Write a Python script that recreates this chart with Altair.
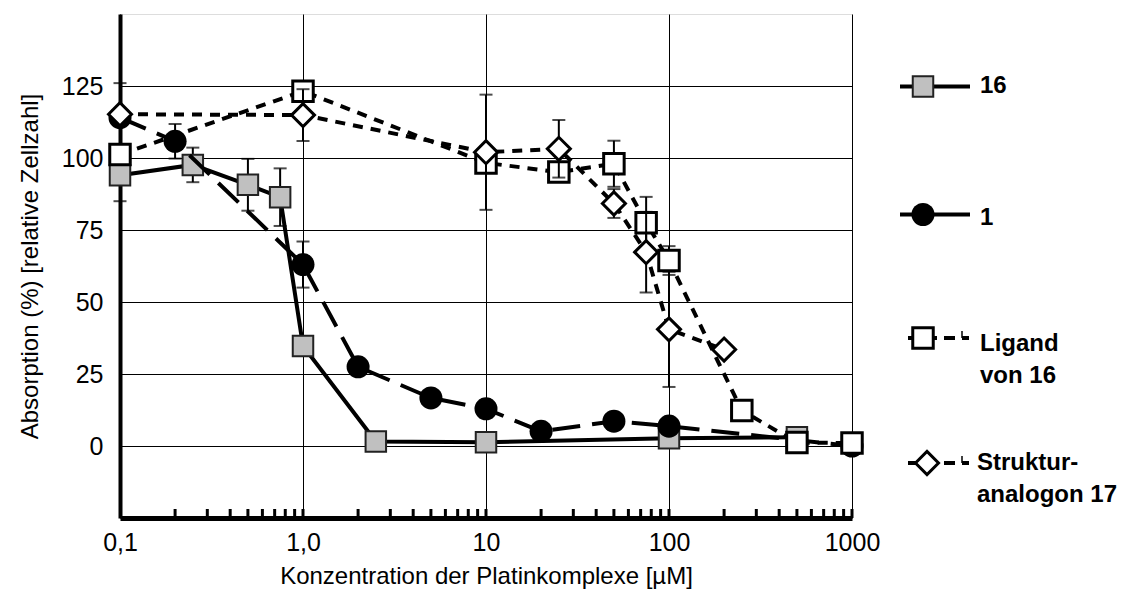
import altair as alt
import pandas as pd

# ---- data ----
conc_16 = [0.1, 0.25, 0.5, 0.75, 1.0, 2.5, 10, 100, 500]
abs_16 = [94, 97.6, 90.7, 86.4, 34.7, 1.6, 1.3, 2.7, 3.0]
err_16 = [9, 6, 9, 10, 0, 0, 0, 0, 0]

conc_1 = [0.1, 0.2, 1.0, 2, 5, 10, 20, 50, 100, 1000]
abs_1 = [114, 105.8, 63, 27.5, 16.7, 12.9, 5.1, 8.6, 6.9, 0]
err_1 = [12, 6, 8, 0, 2, 3, 0, 3, 0, 0]

conc_lig = [0.1, 1.0, 10, 25, 50, 75, 100, 250, 500, 1000]
abs_lig = [101.2, 123.2, 98.3, 95.1, 98, 77.5, 64.4, 12.3, 1.2, 1.0]
err_lig = [0, 0, 0, 0, 8, 9, 5, 0, 0, 0]

conc_17 = [0.1, 1.0, 10, 25, 50, 75, 100, 200]
abs_17 = [115.2, 114.9, 102, 103.2, 84.2, 67.3, 40.5, 33.5]
err_17 = [0, 9, 20, 10, 5, 14, 20, 0]

x_major = [0.1, 1, 10, 100, 1000]
x_minor = [m * d for d in [0.1, 1, 10, 100] for m in range(2, 11)]
y_ticks = [0, 25, 50, 75, 100, 125]

FONT = "Liberation Sans"

xscale = alt.Scale(type="log", domain=[0.1, 1000], nice=False)
yscale = alt.Scale(domain=[-25, 150], nice=False, zero=False)
xaxis = alt.Axis(values=x_major, grid=True, gridColor="black", gridWidth=1, ticks=False,
                 domainColor="black", domainWidth=5, labelFlush=False, labelOverlap=False,
                 labelExpr="datum.value < 0.5 ? '0,1' : (datum.value < 5 ? '1,0' : format(datum.value, 'd'))",
                 labelFontSize=25, labelColor="black", labelPadding=12, labelFont=FONT,
                 title="Konzentration der Platinkomplexe [µM]", titleFontSize=24,
                 titleFontWeight="normal", titleColor="black", titlePadding=9, titleFont=FONT)
yaxis = alt.Axis(values=y_ticks, grid=True, gridColor="black", gridWidth=1, ticks=False,
                 domainColor="black", domainWidth=4, labelFlush=False, labelOverlap=False,
                 labelFontSize=25, labelColor="black", labelPadding=17, labelFont=FONT,
                 title="Absorption (%) [relative Zellzahl]", titleFontSize=24,
                 titleFontWeight="normal", titleColor="black", titlePadding=19, titleFont=FONT)

X = alt.X("x:Q", scale=xscale, axis=xaxis)
Y = alt.Y("y:Q", scale=yscale, axis=yaxis)


def series_layers(conc, vals, errs, line_kw, point_kw):
    df = pd.DataFrame({"x": conc, "y": vals})
    line = alt.Chart(df).mark_line(color="black", **line_kw).encode(x=X, y=Y)
    e_rows = [(c, v - e, v + e) for c, v, e in zip(conc, vals, errs) if e > 0]
    layers = [line]
    if e_rows:
        edf = pd.DataFrame({"x": [r[0] for r in e_rows], "y": [r[1] for r in e_rows],
                            "y2": [r[2] for r in e_rows]})
        rule = alt.Chart(edf).mark_rule(color="black", strokeWidth=2).encode(x=X, y=Y, y2="y2:Q")
        cdf = pd.DataFrame({"x": [r[0] for r in e_rows] * 2,
                            "y": [r[1] for r in e_rows] + [r[2] for r in e_rows]})
        caps = alt.Chart(cdf).mark_tick(color="black", orient="horizontal", size=13,
                                        thickness=2).encode(x=X, y=Y)
        layers += [rule, caps]
    pts = alt.Chart(df).mark_point(opacity=1, **point_kw).encode(x=X, y=Y)
    layers.append(pts)
    return layers


sq_gray = dict(shape="square", size=420, filled=True, fill="#c0c0c0", stroke="#222222", strokeWidth=2)
circ = dict(shape="circle", size=530, filled=True, fill="black", stroke="black", strokeWidth=0)
sq_white = dict(shape="square", size=420, filled=True, fill="white", stroke="black", strokeWidth=3)
diam = dict(shape="diamond", size=530, filled=True, fill="white", stroke="black", strokeWidth=3)

layers = []
minor_df = pd.DataFrame({"x": x_minor})
layers.append(alt.Chart(minor_df).mark_rule(color="black", strokeWidth=3)
              .encode(x=X, y=alt.value(495), y2=alt.value(504)))
layers += series_layers(conc_16, abs_16, err_16, dict(strokeWidth=4), sq_gray)
layers += series_layers(conc_1, abs_1, err_1, dict(strokeWidth=4, strokeDash=[28, 12]), circ)
layers += series_layers(conc_lig, abs_lig, err_lig, dict(strokeWidth=4, strokeDash=[10, 8]), sq_white)
layers += series_layers(conc_17, abs_17, err_17, dict(strokeWidth=4, strokeDash=[10, 8]), diam)

# ---- custom legend (pixel positions relative to plot origin) ----
one = pd.DataFrame({"k": [0]})


def lrule(x1, x2, y, **kw):
    return alt.Chart(one).mark_rule(color="black", **kw).encode(
        x=alt.value(x1), x2=alt.value(x2), y=alt.value(y))


def lvrule(x, y1, y2, **kw):
    return alt.Chart(one).mark_rule(color="black", **kw).encode(
        x=alt.value(x), y=alt.value(y1), y2=alt.value(y2))


def lpoint(x, y, kw):
    return alt.Chart(one).mark_point(opacity=1, **kw).encode(x=alt.value(x), y=alt.value(y))


def ltext(t, x, y):
    return alt.Chart(one).mark_text(text=t, align="left", baseline="alphabetic", fontSize=24,
                                    fontWeight="bold", font=FONT, color="black").encode(
        x=alt.value(x), y=alt.value(y))


leg = [
    lrule(780, 850, 72.5, strokeWidth=4), lpoint(803, 72.5, sq_gray), ltext("16", 860, 79),
    lrule(780, 850, 200.5, strokeWidth=4), lpoint(803, 200.5, circ), ltext("1", 860, 211),
    lrule(788, 849, 324, strokeWidth=4, strokeDash=[11, 7]), lvrule(842, 317, 324, strokeWidth=1.5),
    lpoint(803, 324, sq_white), ltext("Ligand", 860, 337), ltext("von 16", 860, 369),
    lrule(788, 849, 449, strokeWidth=4, strokeDash=[11, 7]), lvrule(842, 442, 449, strokeWidth=1.5),
    lpoint(807, 449, diam), ltext("Struktur-", 857, 456), ltext("analogon 17", 857, 488),
]
layers += leg

chart = alt.layer(*layers).properties(
    width=732, height=504,
    autosize=alt.AutoSizeParams(type="none"),
    padding={"left": 112, "top": 6, "right": 268, "bottom": 76},
).configure_view(stroke="black", strokeWidth=2).configure(font=FONT)

chart.save("out.html", embed_options={"renderer": "svg", "actions": False})
